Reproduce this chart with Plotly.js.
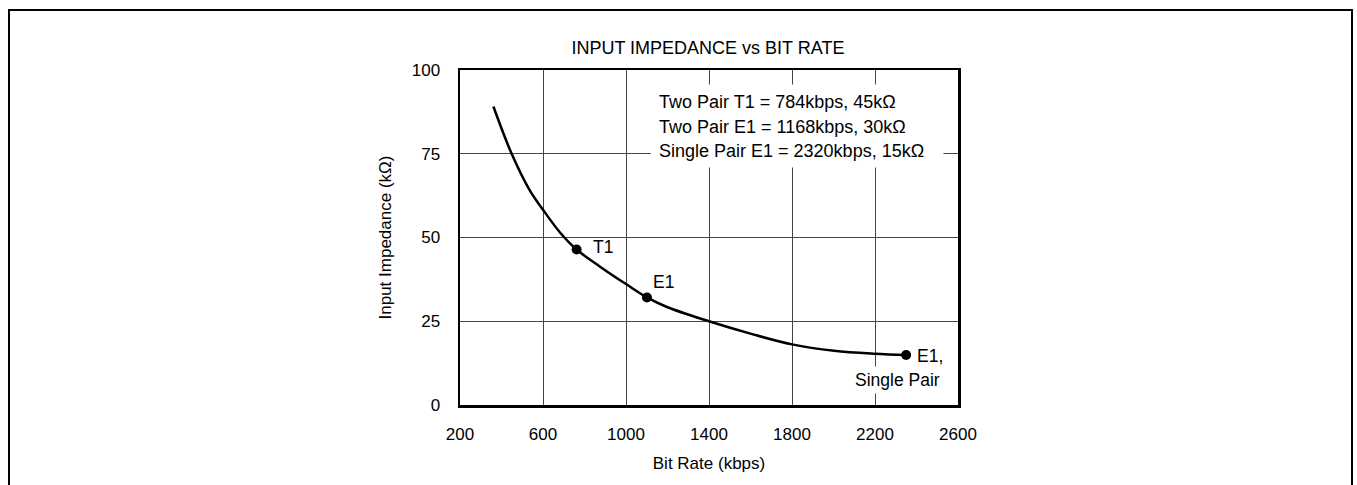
<!DOCTYPE html>
<html>
<head>
<meta charset="utf-8">
<script src="https://cdn.plot.ly/plotly-3.0.1.min.js"></script>
<style>
  html, body { margin: 0; padding: 0; background: #fff; overflow: hidden; }
  #chart { width: 1357px; height: 485px; }
  #frame { position: absolute; left: 8px; top: 9px; width: 1341px; height: 500px;
           border: 2px solid #000; pointer-events: none; }
</style>
</head>
<body>
<div id="chart"></div>
<div id="frame"></div>
<script>
// Curve
const bitRate   = [361, 449, 537, 600, 682, 762, 875, 1000, 1101, 1197, 1400, 1600, 1800, 2003, 2200, 2350];
const impedance = [89.1, 75, 64.0, 58.3, 51.5, 46.4, 41.3, 36.1, 32.1, 29.25, 25, 21.3, 18.1, 16.2, 15.3, 14.9];

// Marked operating points
const pointNames = ['T1', 'E1', 'E1, Single Pair'];
const pointRate  = [762, 1101, 2350];
const pointImp   = [46.4, 32.1, 14.9];

// Note lines
const noteLines = [
  'Two Pair T1 = 784kbps, 45kΩ',
  'Two Pair E1 = 1168kbps, 30kΩ',
  'Single Pair E1 = 2320kbps, 15kΩ'
];
const noteY = [90.4, 83.1, 75.8];

const xTicks = [200, 600, 1000, 1400, 1800, 2200, 2600];
const yTicks = [0, 25, 50, 75, 100];

const FONT = 'Arial, "Liberation Sans", sans-serif';

const traces = [
  {
    x: bitRate, y: impedance, type: 'scatter', mode: 'lines',
    line: { color: '#000', width: 2.5, shape: 'spline', smoothing: 1 },
    hoverinfo: 'skip', showlegend: false
  },
  {
    x: pointRate, y: pointImp, type: 'scatter', mode: 'markers',
    marker: { color: '#000', size: 10 },
    text: pointNames, hoverinfo: 'text', showlegend: false
  }
];

const noteFont = { family: FONT, size: 18, color: '#000' };
const annotations = noteLines.map((t, i) => ({
  x: 1148, y: noteY[i], xref: 'x', yref: 'y', text: t, showarrow: false,
  xanchor: 'left', yanchor: 'middle', align: 'left', font: noteFont
}));

const lblFont = { family: FONT, size: 17.5, color: '#000' };
annotations.push(
  { x: pointRate[0], y: pointImp[0], xref: 'x', yref: 'y', text: 'T1', showarrow: false,
    xanchor: 'left', yanchor: 'middle', xshift: 14, yshift: 3, font: lblFont },
  { x: pointRate[1], y: pointImp[1], xref: 'x', yref: 'y', text: 'E1', showarrow: false,
    xanchor: 'left', yanchor: 'middle', xshift: 4, yshift: 15, font: lblFont },
  { x: pointRate[2], y: pointImp[2], xref: 'x', yref: 'y', text: 'E1,', showarrow: false,
    xanchor: 'left', yanchor: 'middle', xshift: 9, yshift: -1, font: lblFont },
  { x: pointRate[2], y: pointImp[2], xref: 'x', yref: 'y', text: 'Single Pair', showarrow: false,
    xanchor: 'right', yanchor: 'middle', xshift: 38, yshift: -25, font: lblFont,
    bgcolor: '#fff', borderpad: 3 }
);

const layout = {
  width: 1357, height: 485,
  margin: { l: 460, r: 399, t: 70, b: 80, pad: 0 },
  paper_bgcolor: '#fff', plot_bgcolor: '#fff',
  font: { family: FONT, size: 17, color: '#000' },
  title: { text: 'INPUT IMPEDANCE vs BIT RATE', x: 0.5217, xanchor: 'center', xref: 'container',
           y: 1 - 47.7 / 485, yref: 'container', yanchor: 'middle',
           font: { family: FONT, size: 18, color: '#000' } },
  xaxis: {
    range: [200, 2600], tickvals: xTicks, ticktext: xTicks.map(String),
    showgrid: true, gridcolor: '#444', gridwidth: 1,
    showline: true, linecolor: '#000', linewidth: 2.5, mirror: true,
    zeroline: false, ticks: '', ticklen: 0, ticklabelstandoff: 12,
    tickfont: { family: FONT, size: 17, color: '#000' },
    title: { text: 'Bit Rate (kbps)', standoff: 14, font: { family: FONT, size: 17, color: '#000' } },
    fixedrange: true
  },
  yaxis: {
    range: [0, 100], tickvals: yTicks, ticktext: yTicks.map(String),
    showgrid: true, gridcolor: '#444', gridwidth: 1,
    showline: true, linecolor: '#000', linewidth: 2.5, mirror: true,
    zeroline: false, ticks: '', ticklen: 0, ticklabelstandoff: 14,
    tickfont: { family: FONT, size: 17, color: '#000' },
    title: { text: 'Input Impedance (kΩ)', standoff: 16, font: { family: FONT, size: 17, color: '#000' } },
    fixedrange: true
  },
  shapes: [
    { type: 'rect', xref: 'x', yref: 'y', x0: 1119, x1: 2530, y0: 70.9, y1: 95.7,
      fillcolor: '#fff', line: { width: 0 }, layer: 'between' }
  ],
  annotations: annotations,
  showlegend: false
};

Plotly.newPlot('chart', traces, layout, { displayModeBar: false, staticPlot: true });
</script>
</body>
</html>
